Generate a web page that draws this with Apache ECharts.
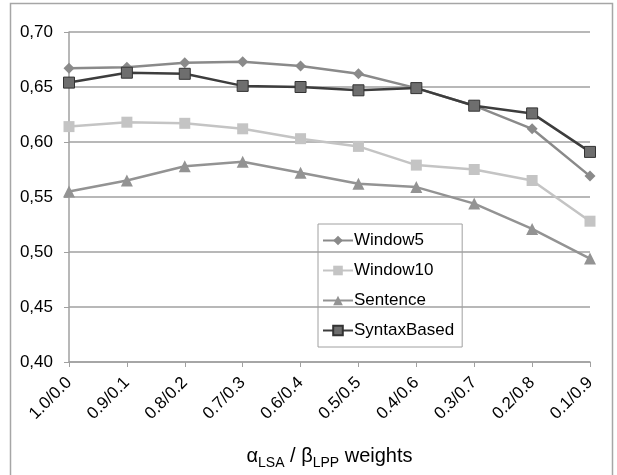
<!DOCTYPE html>
<html>
<head>
<meta charset="utf-8">
<script src="https://cdn.jsdelivr.net/npm/echarts@6/dist/echarts.min.js"></script>
<style>
  html, body { margin: 0; padding: 0; background: #fff; }
  #chart { width: 617px; height: 475px; }
</style>
</head>
<body>
<div id="chart"></div>
<script>
const categories = ['1.0/0.0', '0.9/0.1', '0.8/0.2', '0.7/0.3', '0.6/0.4', '0.5/0.5', '0.4/0.6', '0.3/0.7', '0.2/0.8', '0.1/0.9'];
const window5 = [0.667, 0.668, 0.672, 0.673, 0.669, 0.662, 0.649, 0.633, 0.612, 0.569];
const window10 = [0.614, 0.618, 0.617, 0.612, 0.603, 0.596, 0.579, 0.575, 0.565, 0.528];
const sentence = [0.555, 0.565, 0.578, 0.582, 0.572, 0.562, 0.559, 0.544, 0.521, 0.494];
const syntaxBased = [0.654, 0.663, 0.662, 0.651, 0.650, 0.647, 0.649, 0.633, 0.626, 0.591];

const font = '"Liberation Sans", Arial, sans-serif';

function line(name, data, color, symbol, size, extra) {
  return Object.assign({
    name, data, type: 'line',
    symbol, symbolSize: size,
    lineStyle: { color, width: 2.5 },
    itemStyle: { color }
  }, extra || {});
}

const chart = echarts.init(document.getElementById('chart'));
chart.setOption({
  animation: false,
  grid: { left: 69, right: 27, top: 32, bottom: 109 },
  graphic: [{
    type: 'rect', silent: true,
    shape: { x: 10.5, y: 3.5, width: 602, height: 490 },
    style: { fill: 'none', stroke: '#a6a6a6', lineWidth: 1.5 }
  }],
  legend: {
    orient: 'vertical', left: 318, top: 224,
    padding: [8, 8, 8, 4],
    itemGap: 13, itemWidth: 30, itemHeight: 12,
    borderColor: '#a0a0a0', borderWidth: 1,
    textStyle: { fontFamily: font, fontSize: 17, color: '#000', padding: [0, 0, 0, -4] },
    data: ['Window5', 'Window10', 'Sentence', 'SyntaxBased']
  },
  xAxis: {
    type: 'category', data: categories, boundaryGap: false,
    axisLine: { lineStyle: { color: '#a0a0a0', width: 1.5 } },
    axisTick: { show: true, length: 5, lineStyle: { color: '#a0a0a0' } },
    axisLabel: { rotate: 45, fontFamily: font, fontSize: 17, color: '#000', margin: 18, interval: 0 },
    name: '{a|α}{s|LSA}{a| / β}{s|LPP}{a| weights}',
    nameLocation: 'middle', nameGap: 84,
    nameTextStyle: {
      rich: {
        a: { fontFamily: font, fontSize: 20, color: '#000', verticalAlign: 'bottom' },
        s: { fontFamily: font, fontSize: 14, color: '#000', verticalAlign: 'bottom', padding: [0, 0, -4, 0] }
      }
    }
  },
  yAxis: {
    type: 'value', min: 0.40, max: 0.70, interval: 0.05,
    axisLine: { show: true, lineStyle: { color: '#a0a0a0', width: 1.5 } },
    axisTick: { show: true, length: 5, lineStyle: { color: '#a0a0a0' } },
    axisLabel: {
      fontFamily: font, fontSize: 17, color: '#000', margin: 16,
      formatter: v => v.toFixed(2).replace('.', ',')
    },
    splitLine: { lineStyle: { color: '#a0a0a0', width: 1.5 } }
  },
  series: [
    line('Window5', window5, '#8a8a8a', 'diamond', 11),
    line('Window10', window10, '#c4c4c4', 'rect', 11),
    line('Sentence', sentence, '#939393', 'triangle', 12),
    line('SyntaxBased', syntaxBased, '#3d3d3d', 'rect', 11, {
      itemStyle: { color: '#6e6e6e', borderColor: '#333', borderWidth: 1 }
    })
  ]
});
</script>
</body>
</html>
